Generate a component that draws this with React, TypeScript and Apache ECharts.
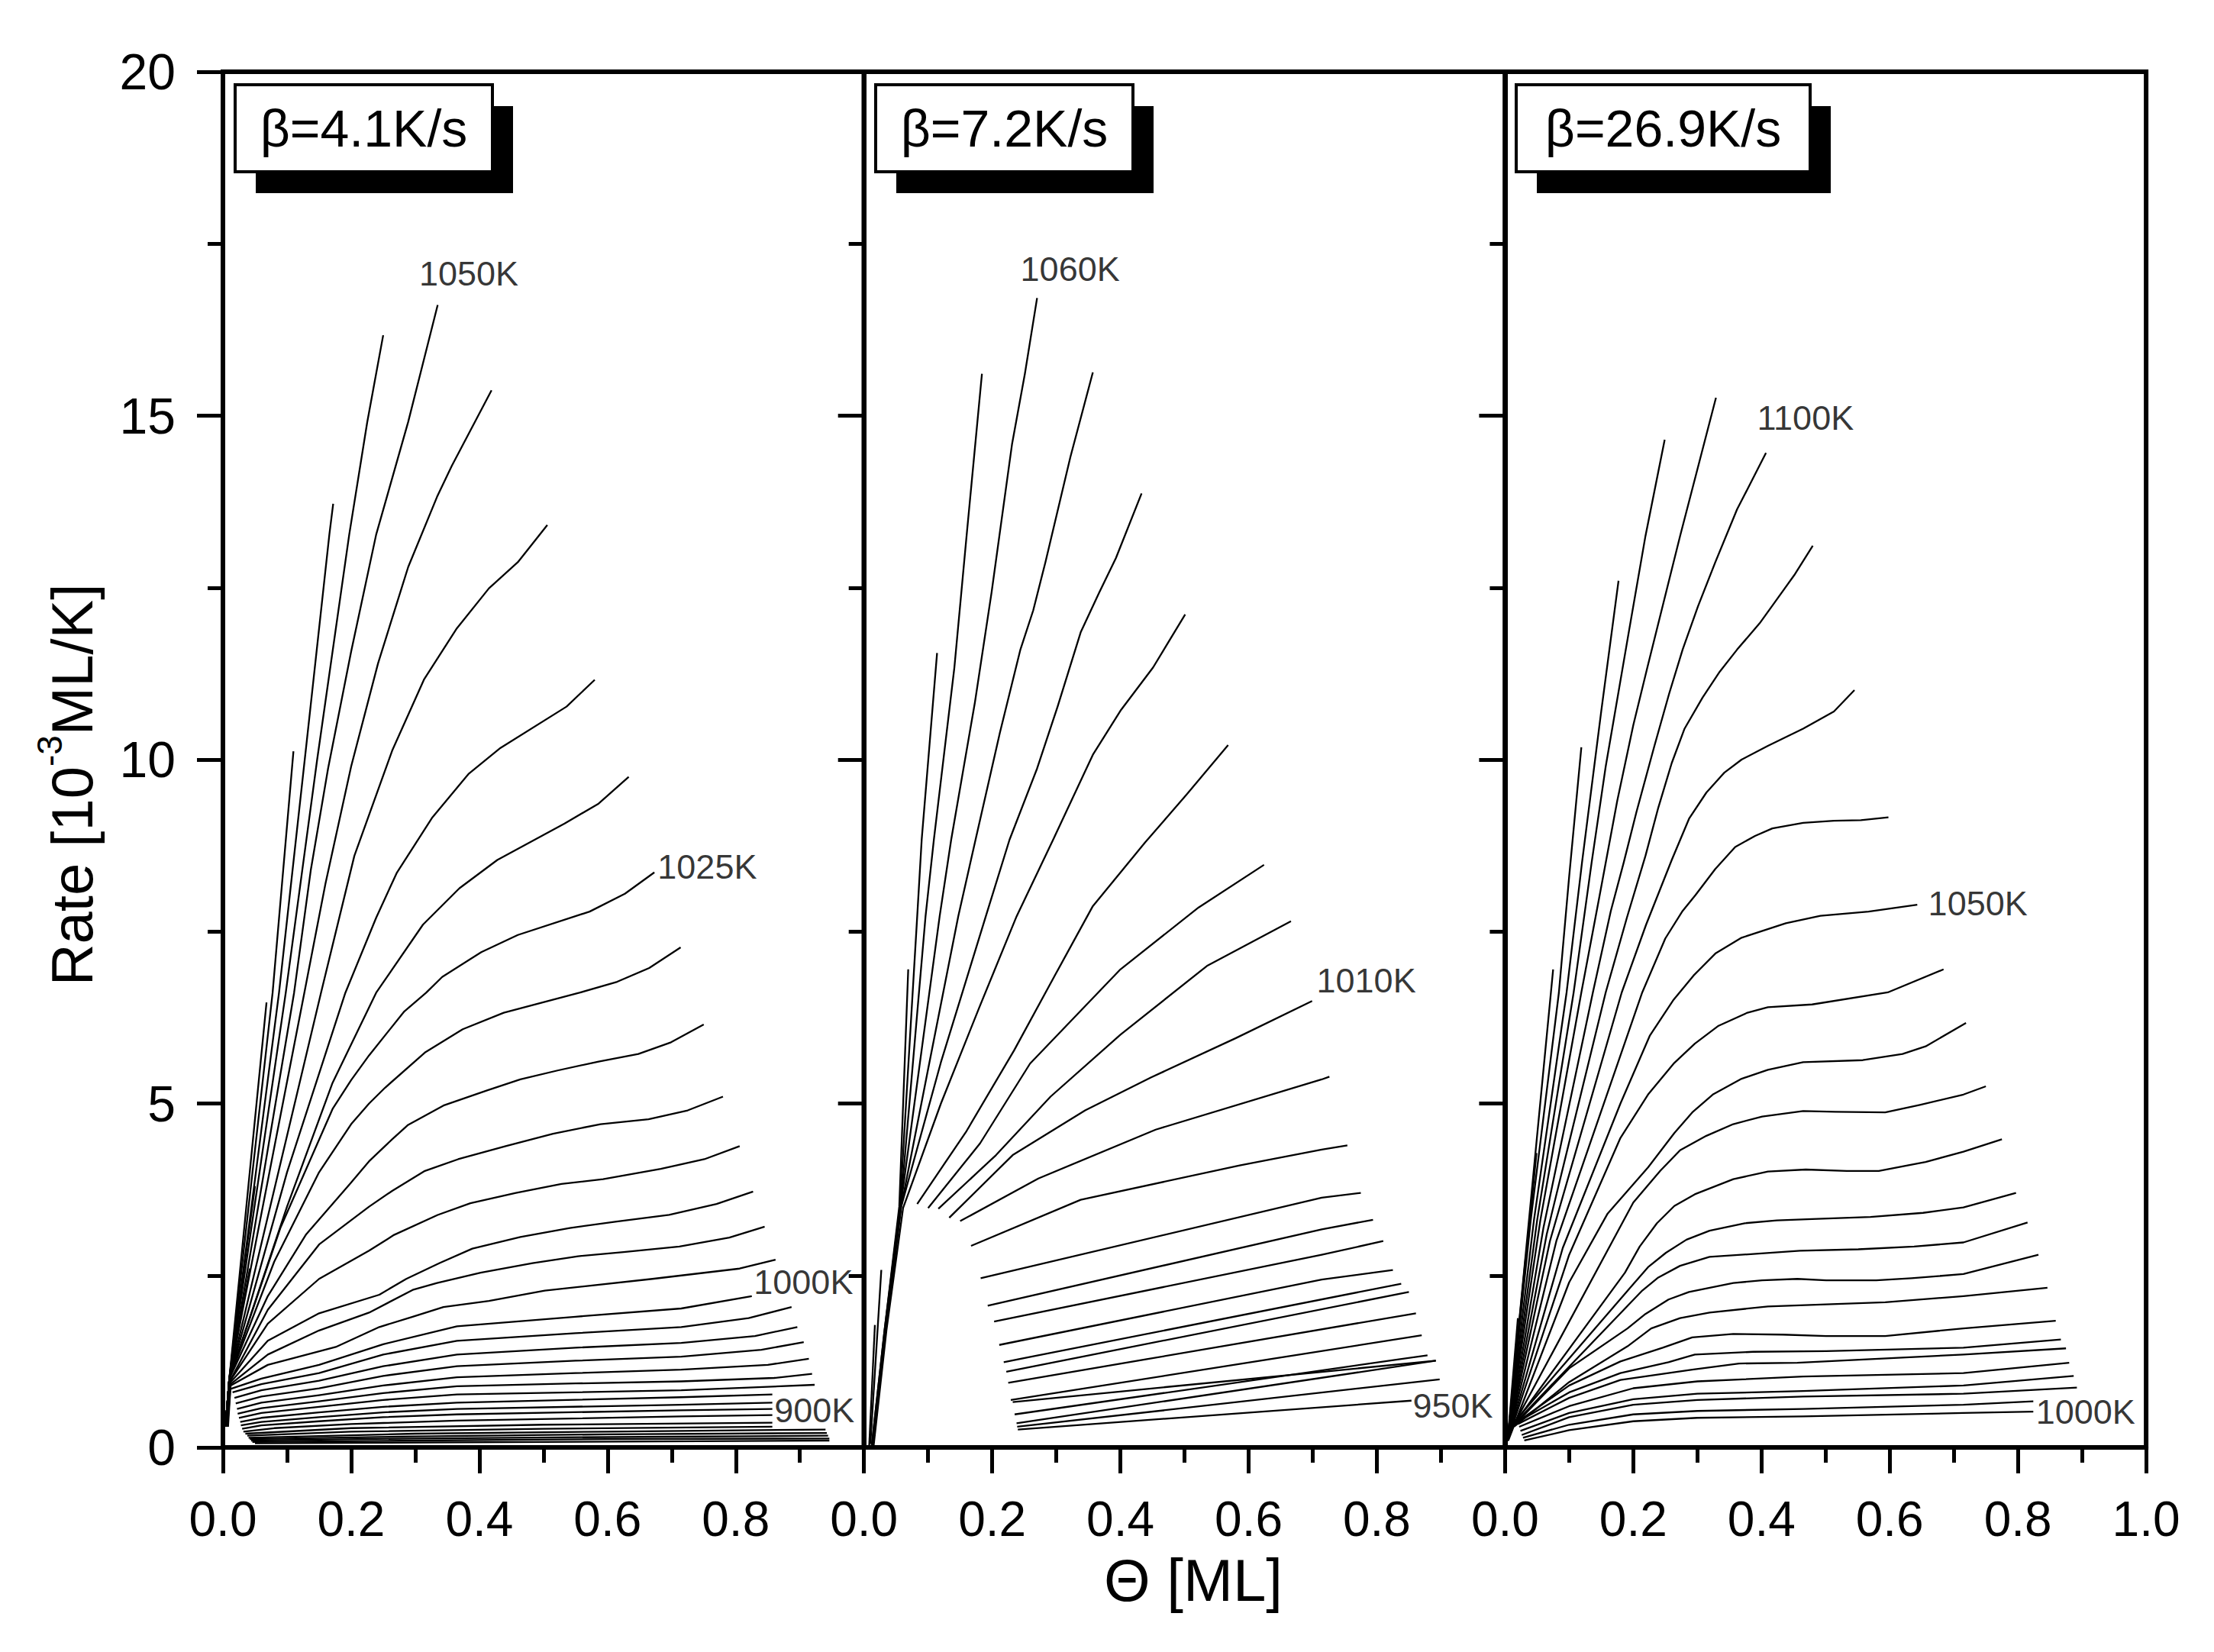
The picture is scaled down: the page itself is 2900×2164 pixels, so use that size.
import React, { useEffect, useRef } from "react";
import * as echarts from "echarts";

const FONT = '"Liberation Sans", Arial, Helvetica, sans-serif';

// ---------- Panel 1 (beta = 4.1 K/s) ----------
const p1Steep: number[][][] = [
  [[0.004, 0.3], [0.01, 1.0], [0.042, 2.6]],
  [[0.004, 0.3], [0.01, 1.0], [0.05, 3.8]],
  [[0.004, 0.3], [0.01, 1.0], [0.068, 6.47]],
  [[0.004, 0.3], [0.01, 1.0], [0.0775, 6.61], [0.11, 10.12]],
  [[0.004, 0.3], [0.01, 1.0], [0.0875, 6.61], [0.13, 10.2], [0.166, 13.27], [0.172, 13.72]],
  [[0.004, 0.3], [0.01, 1.0], [0.098, 6.61], [0.147, 10.0], [0.197, 13.27], [0.225, 14.9], [0.25, 16.17]],
  [[0.004, 0.3], [0.01, 1.0], [0.111, 6.61], [0.137, 8.39], [0.164, 9.87], [0.2, 11.57], [0.239, 13.27], [0.289, 14.91], [0.335, 16.61]],
  [[0.004, 0.3], [0.01, 1.0], [0.127, 6.61], [0.16, 8.2], [0.2, 9.9], [0.242, 11.4], [0.289, 12.8], [0.334, 13.82], [0.357, 14.27], [0.419, 15.37]],
  [[0.004, 0.3], [0.01, 1.0], [0.153, 6.61], [0.205, 8.6], [0.264, 10.13], [0.314, 11.17], [0.365, 11.91], [0.415, 12.49], [0.46, 12.87], [0.506, 13.41]],
  [[0.004, 0.3], [0.01, 1.0], [0.1, 4.0], [0.191, 6.61], [0.239, 7.7], [0.271, 8.35], [0.326, 9.15], [0.383, 9.79], [0.433, 10.17], [0.536, 10.77], [0.58, 11.16]],
  [[0.004, 0.3], [0.01, 1.0], [0.1, 3.5], [0.171, 5.3], [0.239, 6.61], [0.312, 7.6], [0.369, 8.13], [0.428, 8.54], [0.533, 9.07], [0.586, 9.36], [0.633, 9.75]],
];
const p1Mid: number[][][] = [
  [[0.004, 0.3], [0.01, 1.0], [0.09, 3.2], [0.171, 4.92], [0.2, 5.34], [0.228, 5.7], [0.283, 6.34], [0.317, 6.61], [0.342, 6.84], [0.403, 7.2], [0.46, 7.45], [0.572, 7.79], [0.627, 8.05], [0.673, 8.36]],
  [[0.004, 0.3], [0.01, 1.0], [0.08, 2.7], [0.15, 4.0], [0.2, 4.7], [0.228, 5.0], [0.253, 5.23], [0.315, 5.74], [0.374, 6.08], [0.438, 6.32], [0.556, 6.61], [0.615, 6.77], [0.665, 6.97], [0.714, 7.27]],
  [[0.004, 0.3], [0.01, 1.0], [0.07, 2.2], [0.13, 3.1], [0.199, 3.84], [0.228, 4.16], [0.264, 4.48], [0.289, 4.69], [0.344, 4.97], [0.412, 5.19], [0.464, 5.35], [0.522, 5.48], [0.586, 5.61], [0.648, 5.72], [0.699, 5.89], [0.75, 6.15]],
  [[0.005, 0.3], [0.01, 0.95], [0.07, 2.0], [0.15, 2.95], [0.228, 3.5], [0.264, 3.73], [0.315, 4.02], [0.367, 4.19], [0.441, 4.38], [0.515, 4.56], [0.589, 4.7], [0.664, 4.77], [0.725, 4.9], [0.78, 5.1]],
  [[0.005, 0.3], [0.01, 0.95], [0.07, 1.8], [0.15, 2.45], [0.228, 2.86], [0.267, 3.09], [0.335, 3.38], [0.386, 3.55], [0.457, 3.7], [0.528, 3.83], [0.593, 3.9], [0.683, 4.05], [0.751, 4.19], [0.806, 4.38]],
  [[0.006, 0.3], [0.012, 0.95], [0.07, 1.55], [0.15, 1.95], [0.244, 2.22], [0.286, 2.45], [0.338, 2.68], [0.389, 2.89], [0.464, 3.06], [0.541, 3.19], [0.612, 3.28], [0.696, 3.38], [0.77, 3.54], [0.827, 3.72]],
  [[0.007, 0.3], [0.012, 0.92], [0.07, 1.35], [0.15, 1.7], [0.228, 1.96], [0.296, 2.29], [0.334, 2.39], [0.402, 2.54], [0.483, 2.68], [0.554, 2.78], [0.625, 2.84], [0.712, 2.92], [0.79, 3.05], [0.845, 3.21]],
  [[0.008, 0.3], [0.012, 0.9], [0.07, 1.2], [0.176, 1.46], [0.244, 1.75], [0.296, 1.9], [0.344, 2.04], [0.415, 2.13], [0.502, 2.28], [0.67, 2.45], [0.806, 2.6], [0.862, 2.73]],
];
const p1Low: number[][][] = [
  [[0.012, 0.85], [0.06, 1.0], [0.15, 1.2], [0.25, 1.5], [0.365, 1.76], [0.55, 1.9], [0.715, 2.02], [0.825, 2.2]],
  [[0.015, 0.8], [0.06, 0.92], [0.15, 1.08], [0.25, 1.35], [0.365, 1.55], [0.55, 1.66], [0.715, 1.75], [0.82, 1.88], [0.887, 2.04]],
  [[0.018, 0.72], [0.06, 0.83], [0.15, 0.97], [0.25, 1.18], [0.365, 1.35], [0.55, 1.45], [0.715, 1.52], [0.83, 1.62], [0.896, 1.75]],
  [[0.02, 0.64], [0.06, 0.74], [0.15, 0.86], [0.25, 1.04], [0.365, 1.18], [0.55, 1.26], [0.715, 1.32], [0.84, 1.42], [0.906, 1.53]],
  [[0.022, 0.56], [0.06, 0.65], [0.15, 0.76], [0.25, 0.9], [0.365, 1.02], [0.55, 1.08], [0.715, 1.13], [0.85, 1.2], [0.914, 1.29]],
  [[0.023, 0.49], [0.06, 0.57], [0.15, 0.67], [0.25, 0.79], [0.365, 0.89], [0.55, 0.93], [0.715, 0.96], [0.86, 1.01], [0.919, 1.07]],
  [[0.025, 0.43], [0.06, 0.5], [0.15, 0.59], [0.25, 0.69], [0.365, 0.77], [0.715, 0.83], [0.923, 0.91]],
  [[0.027, 0.37], [0.06, 0.43], [0.15, 0.51], [0.25, 0.59], [0.365, 0.65], [0.715, 0.73], [0.857, 0.77]],
  [[0.028, 0.32], [0.06, 0.37], [0.15, 0.44], [0.25, 0.51], [0.365, 0.56], [0.715, 0.62], [0.857, 0.65]],
  [[0.03, 0.27], [0.06, 0.32], [0.15, 0.38], [0.25, 0.44], [0.365, 0.48], [0.715, 0.54], [0.857, 0.56]],
  [[0.032, 0.23], [0.08, 0.28], [0.2, 0.34], [0.365, 0.39], [0.715, 0.45], [0.857, 0.47]],
  [[0.035, 0.2], [0.2, 0.28], [0.5, 0.33], [0.857, 0.36]],
  [[0.038, 0.17], [0.2, 0.23], [0.5, 0.27], [0.857, 0.3]],
  [[0.04, 0.14], [0.3, 0.2], [0.6, 0.23], [0.94, 0.26]],
  [[0.042, 0.12], [0.3, 0.16], [0.6, 0.19], [0.942, 0.21]],
  [[0.044, 0.1], [0.3, 0.13], [0.6, 0.15], [0.944, 0.17]],
  [[0.046, 0.08], [0.3, 0.1], [0.6, 0.12], [0.946, 0.13]],
  [[0.05, 0.06], [0.5, 0.08], [0.946, 0.1]],
];
const p1Labels = [
  { text: "1050K", x: 0.306, y: 17.06 },
  { text: "1025K", x: 0.678, y: 8.44 },
  { text: "1000K", x: 0.828, y: 2.4 },
  { text: "900K", x: 0.86, y: 0.54 },
];

// ---------- Panel 2 (beta = 7.2 K/s) ----------
const p2Fan: number[][][] = [
  [[0.008, 0.0], [0.017, 1.78]],
  [[0.01, 0.05], [0.027, 2.58]],
  [[0.012, 0.02], [0.032, 1.7], [0.055, 3.5], [0.069, 6.95]],
  [[0.012, 0.02], [0.032, 1.7], [0.056, 3.5], [0.083, 7.72], [0.09, 8.835], [0.114, 11.55]],
  [[0.013, 0.02], [0.033, 1.7], [0.057, 3.5], [0.096, 7.72], [0.109, 8.835], [0.141, 11.34], [0.16, 13.25], [0.184, 15.61]],
  [[0.013, 0.02], [0.033, 1.7], [0.057, 3.5], [0.118, 7.72], [0.136, 8.835], [0.173, 10.83], [0.199, 12.43], [0.231, 14.59], [0.251, 15.61], [0.27, 16.71]],
  [[0.014, 0.02], [0.034, 1.7], [0.058, 3.5], [0.1, 5.5], [0.147, 7.72], [0.174, 8.835], [0.212, 10.39], [0.244, 11.6], [0.264, 12.17], [0.283, 12.87], [0.322, 14.4], [0.357, 15.63]],
  [[0.014, 0.02], [0.034, 1.7], [0.058, 3.5], [0.12, 5.6], [0.19, 7.72], [0.227, 8.835], [0.27, 9.87], [0.302, 10.77], [0.338, 11.85], [0.367, 12.43], [0.393, 12.93], [0.433, 13.87]],
  [[0.015, 0.02], [0.035, 1.7], [0.061, 3.48], [0.12, 5.0], [0.18, 6.4], [0.238, 7.72], [0.295, 8.835], [0.357, 10.07], [0.4, 10.71], [0.451, 11.34], [0.501, 12.11]],
];
const p2Upper: number[][][] = [
  [[0.083, 3.54], [0.16, 4.6], [0.234, 5.77], [0.3, 6.9], [0.357, 7.87], [0.438, 8.79], [0.503, 9.49], [0.568, 10.21]],
  [[0.1, 3.48], [0.181, 4.42], [0.259, 5.58], [0.4, 6.95], [0.522, 7.85], [0.624, 8.47]],
  [[0.116, 3.47], [0.206, 4.25], [0.291, 5.1], [0.4, 6.0], [0.535, 7.0], [0.666, 7.65]],
  [[0.133, 3.34], [0.232, 4.25], [0.345, 4.9], [0.448, 5.38], [0.58, 5.95], [0.699, 6.49]],
  [[0.15, 3.29], [0.272, 3.91], [0.455, 4.62], [0.714, 5.35], [0.726, 5.39]],
  [[0.167, 2.93], [0.338, 3.6], [0.586, 4.1], [0.714, 4.33], [0.754, 4.39]],
];
const p2Lower: number[][][] = [
  [[0.182, 2.46], [0.714, 3.63], [0.775, 3.7]],
  [[0.193, 2.06], [0.714, 3.17], [0.794, 3.31]],
  [[0.203, 1.83], [0.714, 2.8], [0.81, 3.0]],
  [[0.211, 1.49], [0.714, 2.44], [0.825, 2.58]],
  [[0.218, 1.24], [0.838, 2.38]],
  [[0.222, 1.1], [0.85, 2.26]],
  [[0.225, 0.94], [0.861, 1.95]],
  [[0.229, 0.69], [0.87, 1.63]],
  [[0.232, 0.66], [0.892, 1.26]],
  [[0.235, 0.48], [0.879, 1.34]],
  [[0.238, 0.35], [0.892, 1.26]],
  [[0.239, 0.3], [0.898, 0.99]],
  [[0.24, 0.26], [0.854, 0.68]],
];
const p2Labels = [
  { text: "1060K", x: 0.244, y: 17.13 },
  { text: "1010K", x: 0.706, y: 6.79 },
  { text: "950K", x: 0.856, y: 0.6 },
];

// ---------- Panel 3 (beta = 26.9 K/s) ----------
const p3Steep: number[][][] = [
  [[0.004, 0.1], [0.02, 1.88]],
  [[0.004, 0.1], [0.032, 2.75]],
  [[0.004, 0.1], [0.025, 2.0], [0.049, 4.28]],
  [[0.004, 0.1], [0.03, 2.6], [0.075, 6.95]],
  [[0.004, 0.1], [0.04, 3.3], [0.084, 6.615], [0.1, 8.3], [0.119, 10.18]],
  [[0.004, 0.1], [0.045, 3.3], [0.096, 6.615], [0.12, 8.5], [0.15, 10.7], [0.177, 12.6]],
  [[0.004, 0.1], [0.05, 3.3], [0.107, 6.615], [0.135, 8.5], [0.157, 9.9], [0.192, 11.8], [0.219, 13.25], [0.249, 14.65]],
  [[0.004, 0.1], [0.055, 3.3], [0.119, 6.615], [0.147, 8.0], [0.175, 9.4], [0.2, 10.5], [0.222, 11.34], [0.273, 13.25], [0.329, 15.26]],
  [[0.004, 0.1], [0.06, 3.2], [0.137, 6.615], [0.165, 7.8], [0.185, 8.5], [0.205, 9.24], [0.233, 10.2], [0.256, 10.96], [0.277, 11.6], [0.301, 12.23], [0.328, 12.87], [0.362, 13.64], [0.383, 14.02], [0.407, 14.46]],
  [[0.004, 0.1], [0.065, 3.1], [0.157, 6.615], [0.19, 7.7], [0.219, 8.6], [0.239, 9.3], [0.26, 9.95], [0.28, 10.45], [0.308, 10.9], [0.335, 11.28], [0.362, 11.6], [0.397, 11.98], [0.424, 12.33], [0.451, 12.68], [0.48, 13.11]],
  [[0.004, 0.1], [0.07, 3.0], [0.182, 6.615], [0.22, 7.6], [0.26, 8.54], [0.287, 9.14], [0.314, 9.52], [0.342, 9.81], [0.369, 10.0], [0.41, 10.2], [0.465, 10.45], [0.513, 10.7], [0.545, 11.01]],
  [[0.004, 0.1], [0.08, 3.0], [0.214, 6.615], [0.25, 7.4], [0.277, 7.8], [0.297, 8.03], [0.328, 8.41], [0.359, 8.73], [0.39, 8.89], [0.417, 9.0], [0.465, 9.08], [0.513, 9.11], [0.555, 9.12], [0.598, 9.16]],
];
const p3Mid: number[][][] = [
  [[0.004, 0.1], [0.09, 2.9], [0.18, 5.0], [0.226, 5.99], [0.263, 6.51], [0.294, 6.86], [0.328, 7.18], [0.369, 7.41], [0.438, 7.62], [0.492, 7.73], [0.567, 7.79], [0.643, 7.89]],
  [[0.004, 0.1], [0.1, 2.8], [0.18, 4.5], [0.223, 5.13], [0.264, 5.59], [0.296, 5.87], [0.333, 6.13], [0.378, 6.32], [0.41, 6.4], [0.479, 6.44], [0.597, 6.615], [0.684, 6.95]],
  [[0.005, 0.1], [0.1, 2.4], [0.16, 3.4], [0.223, 4.07], [0.264, 4.57], [0.292, 4.87], [0.324, 5.13], [0.369, 5.36], [0.41, 5.49], [0.465, 5.6], [0.558, 5.63], [0.62, 5.72], [0.656, 5.83], [0.719, 6.17]],
  [[0.006, 0.2], [0.2, 3.56], [0.242, 4.02], [0.273, 4.32], [0.314, 4.53], [0.356, 4.7], [0.401, 4.81], [0.465, 4.89], [0.515, 4.88], [0.593, 4.87], [0.647, 4.98], [0.715, 5.13], [0.75, 5.25]],
  [[0.007, 0.25], [0.187, 2.54], [0.21, 2.92], [0.237, 3.26], [0.264, 3.51], [0.296, 3.68], [0.356, 3.9], [0.41, 4.01], [0.469, 4.04], [0.533, 4.02], [0.583, 4.02], [0.656, 4.15], [0.715, 4.3], [0.775, 4.48]],
  [[0.008, 0.3], [0.196, 2.33], [0.223, 2.62], [0.251, 2.83], [0.283, 3.02], [0.319, 3.15], [0.374, 3.26], [0.424, 3.3], [0.479, 3.32], [0.57, 3.35], [0.652, 3.41], [0.715, 3.49], [0.797, 3.7]],
  [[0.01, 0.3], [0.214, 2.28], [0.239, 2.47], [0.273, 2.64], [0.319, 2.77], [0.383, 2.81], [0.46, 2.86], [0.551, 2.88], [0.638, 2.92], [0.715, 2.98], [0.815, 3.27]],
];
const p3Low: number[][][] = [
  [[0.012, 0.3], [0.1, 1.15], [0.191, 1.73], [0.219, 1.94], [0.255, 2.15], [0.287, 2.26], [0.356, 2.39], [0.401, 2.43], [0.456, 2.45], [0.501, 2.43], [0.579, 2.43], [0.634, 2.46], [0.715, 2.52], [0.832, 2.8]],
  [[0.014, 0.3], [0.1, 0.95], [0.191, 1.47], [0.228, 1.73], [0.273, 1.88], [0.319, 1.96], [0.41, 2.05], [0.501, 2.08], [0.593, 2.11], [0.715, 2.2], [0.846, 2.32]],
  [[0.016, 0.35], [0.1, 0.9], [0.18, 1.25], [0.246, 1.45], [0.292, 1.6], [0.356, 1.65], [0.433, 1.64], [0.501, 1.62], [0.593, 1.62], [0.715, 1.73], [0.859, 1.84]],
  [[0.018, 0.36], [0.1, 0.8], [0.18, 1.08], [0.255, 1.24], [0.296, 1.35], [0.387, 1.39], [0.501, 1.4], [0.715, 1.45], [0.867, 1.57]],
  [[0.02, 0.34], [0.1, 0.72], [0.18, 0.98], [0.292, 1.13], [0.365, 1.22], [0.456, 1.23], [0.715, 1.35], [0.875, 1.44]],
  [[0.022, 0.3], [0.1, 0.6], [0.2, 0.86], [0.3, 0.96], [0.465, 1.03], [0.715, 1.08], [0.88, 1.23]],
  [[0.024, 0.24], [0.1, 0.5], [0.2, 0.7], [0.3, 0.78], [0.465, 0.82], [0.715, 0.9], [0.887, 1.04]],
  [[0.026, 0.18], [0.1, 0.44], [0.2, 0.62], [0.3, 0.69], [0.465, 0.74], [0.715, 0.78], [0.892, 0.87]],
  [[0.028, 0.14], [0.1, 0.33], [0.2, 0.48], [0.3, 0.53], [0.465, 0.56], [0.715, 0.62], [0.824, 0.67]],
  [[0.03, 0.1], [0.1, 0.25], [0.2, 0.38], [0.3, 0.43], [0.465, 0.45], [0.715, 0.5], [0.824, 0.52]],
];
const p3Labels = [
  { text: "1100K", x: 0.393, y: 14.97 },
  { text: "1050K", x: 0.66, y: 7.91 },
  { text: "1000K", x: 0.828, y: 0.52 },
];

// ---------- Axes / legend texts ----------
const xTicks = [0, 0.2, 0.4, 0.6, 0.8, 1.0];
const yTicks = [0, 5, 10, 15, 20];
const rateTitles = ["\u03b2=4.1K/s", "\u03b2=7.2K/s", "\u03b2=26.9K/s"];

const PANEL_LEFT = [292, 1131.7, 1971.4];
const PANEL_W = 839.7;
const PANEL_TOP = 94;
const PANEL_H = 1802;

export default function App() {
  const ref = useRef<HTMLDivElement>(null);

  useEffect(() => {
    document.body.style.margin = "0";
    if (!ref.current) return;
    const chart = echarts.init(ref.current, null, { renderer: "svg" });

    const panels = [
      { curves: [...p1Steep, ...p1Mid, ...p1Low], labels: p1Labels },
      { curves: [...p2Fan, ...p2Upper, ...p2Lower], labels: p2Labels },
      { curves: [...p3Steep, ...p3Mid, ...p3Low], labels: p3Labels },
    ];

    const series: any[] = [];
    panels.forEach((p, i) => {
      p.curves.forEach((c) => {
        series.push({
          type: "line",
          xAxisIndex: i,
          yAxisIndex: i,
          data: c,
          showSymbol: false,
          symbol: "none",
          smooth: false,
          silent: true,
          lineStyle: { color: "#000", width: 2.3, join: "round" },
        });
      });
      series.push({
        type: "scatter",
        xAxisIndex: i,
        yAxisIndex: i,
        symbolSize: 0,
        silent: true,
        z: 10,
        data: p.labels.map((l) => ({ value: [l.x, l.y], name: l.text })),
        label: {
          show: true,
          position: "right",
          distance: 0,
          formatter: "{b}",
          fontSize: 45,
          fontFamily: FONT,
          color: "#000",
        },
      });
    });

    const grids = PANEL_LEFT.map((left) => ({
      left,
      top: PANEL_TOP,
      width: PANEL_W,
      height: PANEL_H,
      show: true,
      borderColor: "#000",
      borderWidth: 6,
      backgroundColor: "transparent",
    }));

    const xAxes = PANEL_LEFT.map((_, i) => ({
      type: "value",
      gridIndex: i,
      min: xTicks[0],
      max: xTicks[xTicks.length - 1],
      interval: 0.2,
      axisLine: { show: true, lineStyle: { color: "#000", width: 6 } },
      axisTick: { show: true, inside: false, length: 34, lineStyle: { color: "#000", width: 5 } },
      minorTick: { show: true, splitNumber: 2, length: 20, lineStyle: { color: "#000", width: 5 } },
      splitLine: { show: false },
      minorSplitLine: { show: false },
      axisLabel: {
        show: true,
        showMaxLabel: i === 2,
        showMinLabel: true,
        margin: 62,
        fontSize: 64,
        fontFamily: FONT,
        color: "#000",
        formatter: (v: number) => v.toFixed(1),
      },
    }));

    const yAxes = PANEL_LEFT.map((_, i) => ({
      type: "value",
      gridIndex: i,
      min: yTicks[0],
      max: yTicks[yTicks.length - 1],
      interval: 5,
      axisLine: { show: true, lineStyle: { color: "#000", width: 6 } },
      axisTick: { show: true, inside: false, length: 34, lineStyle: { color: "#000", width: 5 } },
      minorTick: { show: true, splitNumber: 2, length: 20, lineStyle: { color: "#000", width: 5 } },
      splitLine: { show: false },
      minorSplitLine: { show: false },
      axisLabel: {
        show: i === 0,
        margin: 62,
        fontSize: 66,
        fontFamily: FONT,
        color: "#000",
        formatter: (v: number) => String(v),
      },
    }));

    const boxes = [
      { x: 308, y: 111, w: 337 },
      { x: 1147, y: 111, w: 337 },
      { x: 1986, y: 111, w: 385 },
    ];
    const graphics: any[] = [];
    boxes.forEach((b, i) => {
      graphics.push({
        type: "rect",
        shape: { x: b.x + 27, y: b.y + 28, width: b.w, height: 114 },
        style: { fill: "#000" },
        z: 100,
      });
      graphics.push({
        type: "rect",
        shape: { x: b.x, y: b.y, width: b.w, height: 114 },
        style: { fill: "#fff", stroke: "#000", lineWidth: 4 },
        z: 101,
      });
      graphics.push({
        type: "text",
        x: b.x + b.w / 2,
        y: b.y + 57,
        z: 102,
        style: {
          text: rateTitles[i],
          fontSize: 68,
          fontFamily: FONT,
          fill: "#000",
          align: "center",
          verticalAlign: "middle",
        },
      });
    });
    graphics.push({
      type: "text",
      x: 87,
      y: 1028,
      rotation: Math.PI / 2,
      z: 100,
      style: {
        text: "{a|Rate [10}{s|-3}{a|ML/K]}",
        align: "center",
        verticalAlign: "middle",
        fill: "#000",
        rich: {
          a: { fontSize: 76, fontFamily: FONT, fill: "#000", verticalAlign: "bottom", lineHeight: 90 },
          s: { fontSize: 46, fontFamily: FONT, fill: "#000", verticalAlign: "top", lineHeight: 90 },
        },
      },
    });
    graphics.push({
      type: "text",
      x: 1563,
      y: 2070,
      z: 100,
      style: {
        text: "\u0398 [ML]",
        fontSize: 78,
        fontFamily: FONT,
        fill: "#000",
        align: "center",
        verticalAlign: "middle",
      },
    });

    chart.setOption({
      animation: false,
      backgroundColor: "#fff",
      grid: grids,
      xAxis: xAxes,
      yAxis: yAxes,
      series,
      graphic: graphics,
    });

    return () => chart.dispose();
  }, []);

  return <div ref={ref} style={{ width: 2900, height: 2164 }} />;
}
